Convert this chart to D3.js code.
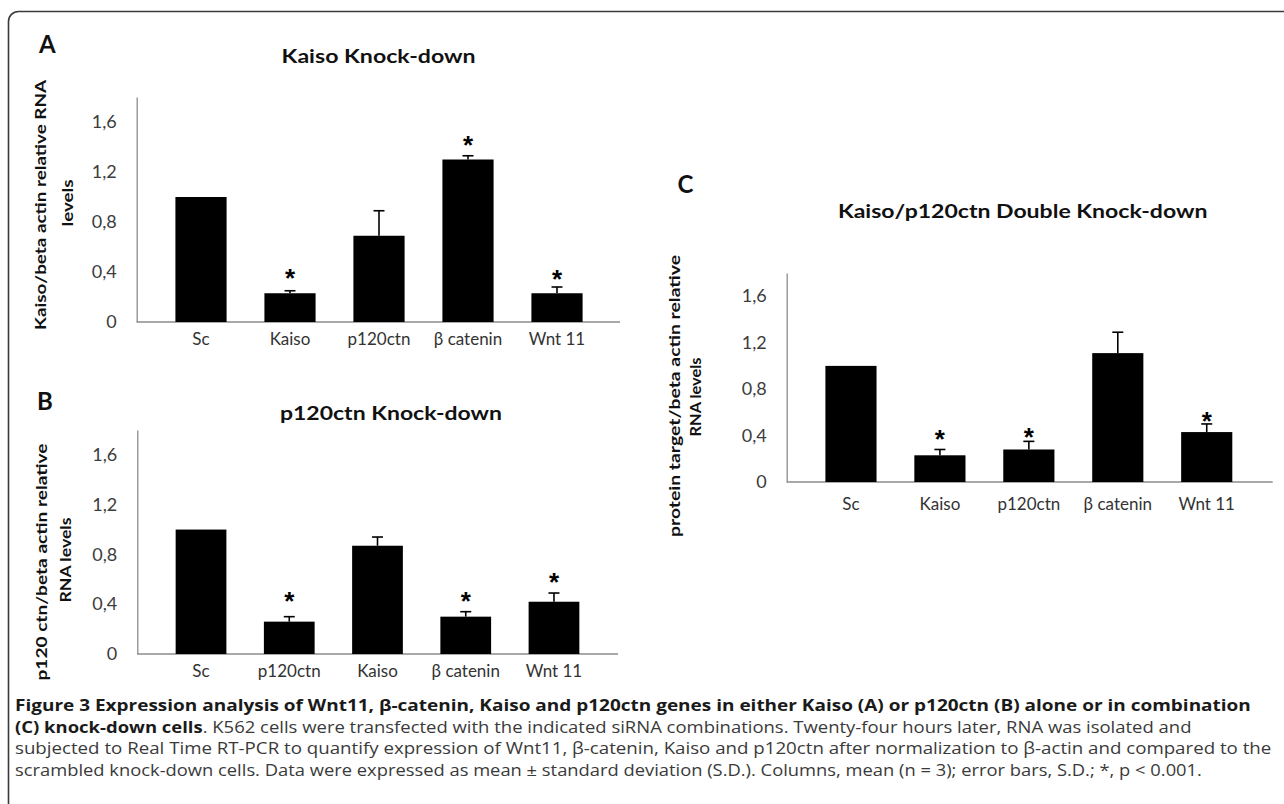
<!DOCTYPE html>
<html>
<head>
<meta charset="utf-8">
<script src="https://cdn.jsdelivr.net/npm/d3@7"></script>
<style>
  body { margin: 0; background: #fff; }
  svg { display: block; }
</style>
</head>
<body>
<div id="figure"></div>
<script>
// Panel A - Kaiso knock-down
var categoriesA = ['Sc', 'Kaiso', 'p120ctn', 'β catenin', 'Wnt 11'];
var meansA = [1.00, 0.23, 0.69, 1.30, 0.23];
var errorsA = [0, 0.02, 0.20, 0.03, 0.05];
var starsA = [null, 0.40, null, 1.46, 0.39];

// Panel B - p120ctn knock-down
var categoriesB = ['Sc', 'p120ctn', 'Kaiso', 'β catenin', 'Wnt 11'];
var meansB = [1.00, 0.26, 0.87, 0.30, 0.42];
var errorsB = [0, 0.04, 0.07, 0.04, 0.07];
var starsB = [null, 0.47, null, 0.47, 0.63];

// Panel C - Kaiso/p120ctn double knock-down
var categoriesC = ['Sc', 'Kaiso', 'p120ctn', 'β catenin', 'Wnt 11'];
var meansC = [1.00, 0.23, 0.28, 1.11, 0.43];
var errorsC = [0, 0.05, 0.07, 0.18, 0.07];
var starsC = [null, 0.42, 0.44, null, 0.58];

var yTicks = [0, 0.4, 0.8, 1.2, 1.6];
var yMax = 1.8;

var titles = ['Kaiso Knock-down', 'p120ctn Knock-down', 'Kaiso/p120ctn Double Knock-down'];
var yLabelsA = ['Kaiso/beta actin relative RNA', 'levels'];
var yLabelsB = ['p120 ctn/beta actin relative', 'RNA levels'];
var yLabelsC = ['protein target/beta actin relative', 'RNA levels'];

var captionLines = [
  [['Figure 3 Expression analysis of Wnt11, β-catenin, Kaiso and p120ctn genes in either Kaiso (A) or p120ctn (B) alone or in combination', true]],
  [['(C) knock-down cells', true], ['. K562 cells were transfected with the indicated siRNA combinations. Twenty-four hours later, RNA was isolated and', false]],
  [['subjected to Real Time RT-PCR to quantify expression of Wnt11, β-catenin, Kaiso and p120ctn after normalization to β-actin and compared to the', false]],
  [['scrambled knock-down cells. Data were expressed as mean ± standard deviation (S.D.). Columns, mean (n = 3); error bars, S.D.; *, p < 0.001.', false]]
];

var W = 1284, H = 804;
var chartFont = 'Lato, "Open Sans", sans-serif';

var svg = d3.select('#figure').append('svg')
    .attr('width', W)
    .attr('height', H);

// Outer frame (runs off the right and bottom edges)
svg.append('rect')
    .attr('x', 8.5).attr('y', 11.5)
    .attr('width', W + 40).attr('height', H + 40)
    .attr('rx', 10)
    .attr('fill', 'none')
    .attr('stroke', '#3a3a3a')
    .attr('stroke-width', 1.6);

function drawPanel(p) {
    var g = svg.append('g').attr('class', 'panel');

    var y = d3.scaleLinear().domain([0, yMax]).range([p.y0, p.y1]);
    var x = d3.scaleBand()
        .domain(p.categories)
        .range(p.band)
        .paddingInner(0.425)
        .paddingOuter(0.2125);

    // panel letter
    g.append('text')
        .attr('x', p.letter[0]).attr('y', p.letter[1])
        .style('font-family', chartFont)
        .style('font-weight', 'bold')
        .style('font-size', '24px')
        .attr('fill', '#111')
        .text(p.letterText);

    // title
    g.append('text')
        .attr('x', p.title[0]).attr('y', p.title[1])
        .attr('text-anchor', 'middle')
        .attr('textLength', p.title[2])
        .attr('lengthAdjust', 'spacingAndGlyphs')
        .style('font-family', chartFont)
        .style('font-weight', 'bold')
        .style('font-size', '19px')
        .attr('fill', '#111')
        .text(p.titleText);

    // y axis
    var yAxis = g.append('g')
        .attr('transform', 'translate(' + p.axisX + ',0)')
        .call(d3.axisLeft(y)
            .tickValues(yTicks)
            .tickSize(0)
            .tickSizeOuter(0)
            .tickPadding(20)
            .tickFormat(function(d) { return d3.format('~g')(d).replace('.', ','); }));
    yAxis.select('.domain').attr('stroke', '#8c8c8c').attr('stroke-width', 1.3);
    yAxis.selectAll('text')
        .style('font-family', chartFont)
        .style('font-size', '18px')
        .attr('fill', '#3c3c3c');

    // x axis line
    g.append('line')
        .attr('x1', p.axisX).attr('x2', p.axisEnd)
        .attr('y1', y(0)).attr('y2', y(0))
        .attr('stroke', '#8c8c8c')
        .attr('stroke-width', 1.3);

    // category labels
    g.selectAll('text.cat')
        .data(p.categories)
        .enter().append('text')
        .attr('class', 'cat')
        .attr('x', function(d) { return x(d) + x.bandwidth() / 2; })
        .attr('y', p.catY)
        .attr('text-anchor', 'middle')
        .style('font-family', chartFont)
        .style('font-size', '17px')
        .attr('fill', '#333')
        .text(function(d) { return d; });

    var rows = p.categories.map(function(c, i) {
        return {cat: c, mean: p.means[i], err: p.errors[i], star: p.stars[i]};
    });

    // error bars (upper half only)
    var eb = g.selectAll('g.err')
        .data(rows.filter(function(d) { return d.err > 0; }))
        .enter().append('g')
        .attr('class', 'err')
        .attr('stroke', '#000')
        .attr('stroke-width', 1.6);
    eb.append('line')
        .attr('x1', function(d) { return x(d.cat) + x.bandwidth() / 2; })
        .attr('x2', function(d) { return x(d.cat) + x.bandwidth() / 2; })
        .attr('y1', function(d) { return y(d.mean); })
        .attr('y2', function(d) { return y(d.mean + d.err); });
    eb.append('line')
        .attr('x1', function(d) { return x(d.cat) + x.bandwidth() / 2 - 5.5; })
        .attr('x2', function(d) { return x(d.cat) + x.bandwidth() / 2 + 5.5; })
        .attr('y1', function(d) { return y(d.mean + d.err); })
        .attr('y2', function(d) { return y(d.mean + d.err); });

    // bars
    g.selectAll('rect.bar')
        .data(rows)
        .enter().append('rect')
        .attr('class', 'bar')
        .attr('x', function(d) { return x(d.cat); })
        .attr('y', function(d) { return y(d.mean); })
        .attr('width', x.bandwidth())
        .attr('height', function(d) { return y(0) - y(d.mean); })
        .attr('fill', '#000');

    // significance stars (glyph centre sits ~0.575em above the baseline)
    var starSize = 26;
    g.selectAll('text.star')
        .data(rows.filter(function(d) { return d.star !== null; }))
        .enter().append('text')
        .attr('class', 'star')
        .attr('x', function(d) { return x(d.cat) + x.bandwidth() / 2; })
        .attr('y', function(d) { return y(d.star) + 0.575 * starSize; })
        .attr('text-anchor', 'middle')
        .style('font-family', '"Liberation Sans", Arial, sans-serif')
        .style('font-weight', 'bold')
        .style('font-size', starSize + 'px')
        .attr('fill', '#000')
        .text('*');

    // rotated two-line y label
    p.yLabels.forEach(function(t, i) {
        var pos = p.yLabelPos[i];
        g.append('text')
            .attr('transform', 'translate(' + pos[0] + ',' + pos[1] + ') rotate(-90)')
            .attr('text-anchor', 'middle')
            .attr('dy', '0.35em')
            .attr('textLength', pos[2])
            .attr('lengthAdjust', 'spacingAndGlyphs')
            .style('font-family', chartFont)
            .style('font-weight', 'bold')
            .style('font-size', '16px')
            .attr('fill', '#111')
            .text(t);
    });
}

drawPanel({
    letterText: 'A', letter: [39, 53],
    titleText: titles[0], title: [378.6, 63, 194],
    categories: categoriesA, means: meansA, errors: errorsA, stars: starsA,
    y0: 322, y1: 97, band: [156.5, 601.5], axisX: 136.7, axisEnd: 620,
    catY: 345,
    yLabels: yLabelsA, yLabelPos: [[40, 205, 250], [67, 203, 47]]
});

drawPanel({
    letterText: 'B', letter: [37, 410],
    titleText: titles[1], title: [391, 420, 222],
    categories: categoriesB, means: meansB, errors: errorsB, stars: starsB,
    y0: 654, y1: 430, band: [156.9, 598.1], axisX: 137.3, axisEnd: 618,
    catY: 677,
    yLabels: yLabelsB, yLabelPos: [[41, 562, 237], [65, 560, 85]]
});

drawPanel({
    letterText: 'C', letter: [677.5, 193],
    titleText: titles[2], title: [1022.7, 218, 369.5],
    categories: categoriesC, means: meansC, errors: errorsC, stars: starsC,
    y0: 482, y1: 273, band: [806.5, 1251.2], axisX: 786.7, axisEnd: 1272.7,
    catY: 510,
    yLabels: yLabelsC, yLabelPos: [[674, 396, 282], [695, 397, 79]]
});

// Caption: each line squeezed horizontally to the width it has in the figure
var captionX = 15;
var captionBase = [711, 732.5, 754, 775.5];
var captionEnd = [1252, 1193, 1272, 1203];

captionLines.forEach(function(parts, i) {
    var t = svg.append('text')
        .attr('x', 0).attr('y', 0)
        .style('font-family', '"Open Sans", "Noto Sans", sans-serif')
        .style('font-size', '16px');
    parts.forEach(function(part) {
        t.append('tspan')
            .style('font-weight', part[1] ? 'bold' : 'normal')
            .attr('fill', part[1] ? '#1a1a1a' : '#3a3a3a')
            .text(part[0]);
    });
    var w = t.node().getComputedTextLength();
    var s = (captionEnd[i] - captionX) / w;
    t.attr('transform', 'translate(' + captionX + ',' + captionBase[i] + ') scale(' + s + ',1)');
});
</script>
</body>
</html>
